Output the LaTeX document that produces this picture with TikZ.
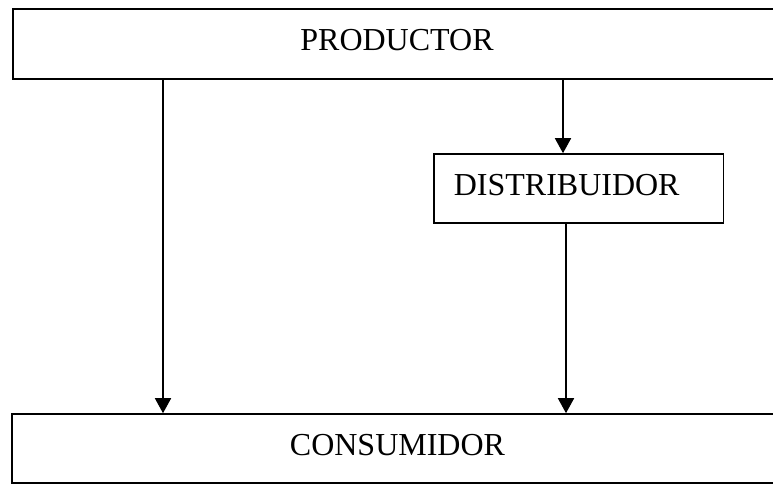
\documentclass[tikz,border=0pt]{standalone}
\usepackage{fontspec}
\setmainfont{Liberation Serif}
\usetikzlibrary{arrows.meta}
\begin{document}
\begin{tikzpicture}[x=1pt,y=-1pt,
  box/.style={draw, line width=1.6pt, rectangle, inner sep=0pt, text depth=8pt,
    font=\fontsize{32}{38}\selectfont},
  arr/.style={line width=1.6pt, -{Triangle[width=16pt,length=15pt]}},
  link/.style={line width=1.6pt}]
  \useasboundingbox (0,0) rectangle (773,485);
  \clip (0,0) rectangle (773,485);
  \fill[white] (0,0) rectangle (773,485);

  % stages of the distribution channel
  \node[box, minimum width=768pt, minimum height=70pt] (prod) at (397,44) {PRODUCTOR};
  \node[box, minimum width=289pt, minimum height=69pt, inner xsep=20pt, anchor=west]
    (dist) at (433,188.5) {DISTRIBUIDOR\hspace*{24pt}};
  \node[box, minimum width=771pt, minimum height=69pt] (cons) at (397.5,448.5) {CONSUMIDOR};

  % vertical positions of the connectors
  \coordinate (xa) at (163,0);
  \coordinate (xb) at (563,0);
  \coordinate (xc) at (566,0);

  \draw[arr] (prod.south -| xa) -- (cons.north -| xa);
  \draw[arr] (prod.south -| xb) -- (dist.north -| xb);
  \draw[arr] (dist.south -| xc) -- (cons.north -| xc);
\end{tikzpicture}
\end{document}
